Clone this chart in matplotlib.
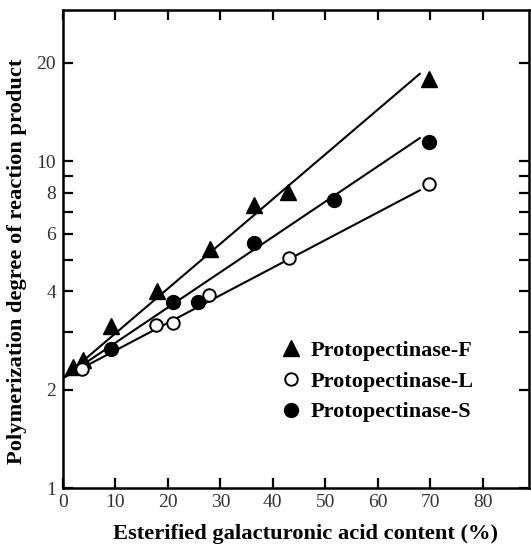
import matplotlib
matplotlib.use("Agg")
import matplotlib.pyplot as plt
from matplotlib.lines import Line2D

# ---- data ----
x_F = [1.9, 3.8, 9.2, 17.9, 28.0, 36.4, 42.8, 69.8]
y_F = [2.35, 2.47, 3.12, 4.02, 5.38, 7.32, 8.02, 17.9]

x_L = [3.7, 17.8, 21.0, 27.9, 43.0, 69.8]
y_L = [2.31, 3.16, 3.20, 3.90, 5.05, 8.49]

x_S = [9.2, 21.0, 25.7, 36.4, 51.7, 69.8]
y_S = [2.66, 3.71, 3.71, 5.62, 7.60, 11.42]

# fitted lines (end points)
fit_x = [0, 68]
fit_F = [2.17, 18.5]
fit_L = [2.17, 8.14]
fit_S = [2.17, 11.76]

xticks = [0, 10, 20, 30, 40, 50, 60, 70, 80]
yticks = [1, 2, 3, 4, 5, 6, 7, 8, 9, 10, 20]
ytick_labels = ['1', '2', '', '4', '', '6', '', '8', '', '10', '20']

labels = ['Protopectinase-F', 'Protopectinase-L', 'Protopectinase-S']
xlabel = 'Esterified galacturonic acid content (%)'
ylabel = 'Polymerization degree of reaction product'

# ---- figure ----
plt.rcParams['font.family'] = ['Liberation Serif', 'DejaVu Serif']
fig = plt.figure(figsize=(5.31, 5.5), dpi=100)
ax = fig.add_axes([0.1186, 0.1127, 0.996 - 0.1186, 0.9818 - 0.1127])

lw = 1.5
ax.plot(fit_x, fit_F, color='black', lw=lw)
ax.plot(fit_x, fit_L, color='black', lw=lw)
ax.plot(fit_x, fit_S, color='black', lw=lw)

ax.plot(x_F, y_F, linestyle='none', marker='^', ms=11, color='black')
ax.plot(x_L, y_L, linestyle='none', marker='o', ms=9, markerfacecolor='white',
        markeredgecolor='black', markeredgewidth=1.4)
ax.plot(x_S, y_S, linestyle='none', marker='o', ms=10, color='black')

ax.set_yscale('log')
ax.set_xlim(0, 88.8)
ax.set_ylim(1, 29)

ax.set_xticks(xticks)
ax.set_xticklabels([str(v) for v in xticks])
ax.set_yticks(yticks)
ax.set_yticklabels(ytick_labels)
ax.yaxis.set_minor_locator(matplotlib.ticker.NullLocator())

for s in ax.spines.values():
    s.set_linewidth(1.8)

ax.tick_params(axis='both', direction='in', length=7, width=1.6,
               labelsize=14, colors='black', labelcolor='#333333')
ax.tick_params(axis='x', top=True, pad=4)
ax.tick_params(axis='y', right=True, pad=5)
ax.tick_params(axis='y', which='major', labelright=False)

ax.set_xlabel(xlabel, fontsize=16.2, fontweight='bold', labelpad=10)
ax.set_ylabel(ylabel, fontsize=16.2, fontweight='bold', labelpad=7)
ax.xaxis.label.set_x(0.521)
ax.yaxis.label.set_y(0.474)

handles = [
    Line2D([], [], linestyle='none', marker='^', ms=11, color='black'),
    Line2D([], [], linestyle='none', marker='o', ms=9, markerfacecolor='white',
           markeredgecolor='black', markeredgewidth=1.4),
    Line2D([], [], linestyle='none', marker='o', ms=10, color='black'),
]
leg = ax.legend(handles, labels, frameon=False, loc='upper left',
                bbox_to_anchor=(0.422, 0.35), handlelength=1.0,
                handletextpad=0.4, labelspacing=0.45,
                prop={'family': 'Liberation Serif', 'weight': 'bold', 'size': 16})

fig.savefig('out.png', dpi=100)
